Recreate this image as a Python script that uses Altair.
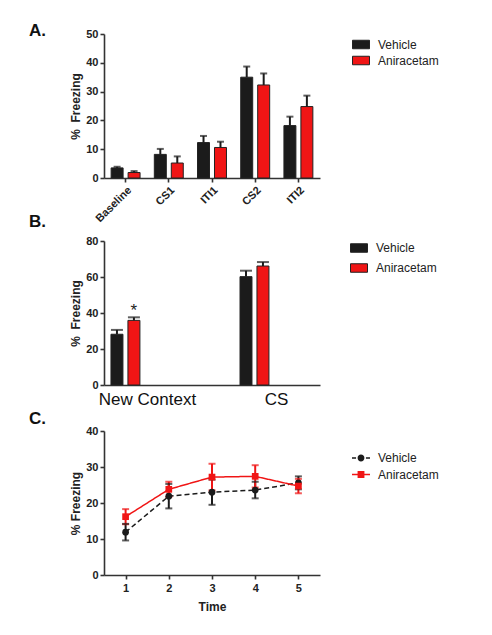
import altair as alt
import pandas as pd

FONT = "Liberation Sans"
BLACK = "#1b1b1b"
RED = "#f01515"
AXIS = "#333333"
groups = ["Vehicle", "Aniracetam"]

# ---- Panel A data ----
phases_a = ["Baseline", "CS1", "ITI1", "CS2", "ITI2"]
veh_a = [3.5, 8.2, 12.3, 35.0, 18.2]
veh_a_sem = [0.4, 1.9, 2.3, 3.7, 3.1]
ani_a = [1.9, 5.2, 10.6, 32.3, 24.8]
ani_a_sem = [0.5, 2.3, 2.0, 4.0, 3.8]

# ---- Panel B data ----
contexts_b = ["New Context", "CS"]
veh_b = [28.2, 60.2]
veh_b_sem = [2.4, 3.3]
ani_b = [35.9, 66.1]
ani_b_sem = [1.7, 2.2]
ani_b_sig = ["*", ""]

# ---- Panel C data ----
time_c = [1, 2, 3, 4, 5]
veh_c = [11.9, 21.9, 23.0, 23.6, 25.6]
veh_c_sem = [2.3, 3.4, 3.5, 2.3, 1.8]
ani_c = [16.2, 23.8, 27.2, 27.4, 24.7]
ani_c_sem = [2.1, 2.1, 3.7, 3.1, 2.0]


def long_df(keyname, keys, v, vs, a, as_, sig=None):
    rows = []
    for i, k in enumerate(keys):
        rows.append({keyname: k, "group": "Vehicle", "mean": v[i], "sem": vs[i],
                     "hi": v[i] + vs[i], "lo": v[i] - vs[i], "sig": ""})
    for i, k in enumerate(keys):
        rows.append({keyname: k, "group": "Aniracetam", "mean": a[i], "sem": as_[i],
                     "hi": a[i] + as_[i], "lo": a[i] - as_[i],
                     "sig": sig[i] if sig else ""})
    return pd.DataFrame(rows)


df_a = long_df("phase", phases_a, veh_a, veh_a_sem, ani_a, ani_a_sem)
df_b = long_df("context", contexts_b, veh_b, veh_b_sem, ani_b, ani_b_sem, ani_b_sig)
df_c = long_df("time", time_c, veh_c, veh_c_sem, ani_c, ani_c_sem)

color_scale = alt.Scale(domain=groups, range=[BLACK, RED])


def bar_legend(x, y, rowpad):
    return alt.Legend(title=None, orient="none", legendX=x, legendY=y,
                      symbolType="M-1,-0.5H1V0.5H-1Z", symbolSize=289,
                      symbolStrokeColor="#222222", symbolStrokeWidth=1,
                      symbolOpacity=1,
                      labelFont=FONT, labelFontSize=12, labelColor="#222222",
                      labelOffset=8, rowPadding=rowpad)


def yaxis(vals, title):
    return alt.Axis(title=title, values=vals, titlePadding=3, labelPadding=2,
                    tickSize=4, labelOverlap=False)


def panel_title(txt, dy):
    return alt.TitleParams(text=txt, anchor="start", frame="group", orient="top",
                           dx=-75, dy=dy, offset=0, fontSize=17, fontWeight="bold",
                           font=FONT, color="#111111", baseline="alphabetic")


# ---- Panel A chart ----
xa = alt.X("phase:N", sort=phases_a, title=None,
           scale=alt.Scale(paddingInner=0.33, paddingOuter=0.165),
           axis=alt.Axis(labelAngle=-45, tickSize=4, labelPadding=2))
xoa = alt.XOffset("group:N", sort=groups,
                  scale=alt.Scale(paddingInner=0.294, paddingOuter=0))
ax_a = yaxis([0, 10, 20, 30, 40, 50], "%\u00a0 Freezing")
sc_a = alt.Scale(domain=[0, 50])
base_a = alt.Chart(df_a)
bars_a = base_a.mark_bar(stroke="#222222", strokeWidth=1).encode(
    x=xa, xOffset=xoa,
    y=alt.Y("mean:Q", scale=sc_a, axis=ax_a),
    color=alt.Color("group:N", sort=groups, scale=color_scale,
                    legend=bar_legend(248, 1.5, 0)),
)
err_a = base_a.mark_rule(color=BLACK, strokeWidth=2).encode(
    x=xa, xOffset=xoa, y=alt.Y("mean:Q", scale=sc_a, axis=ax_a), y2="hi:Q")
cap_a = base_a.mark_tick(color=BLACK, thickness=2, size=7, orient="horizontal").encode(
    x=xa, xOffset=xoa, y=alt.Y("hi:Q", scale=sc_a, axis=ax_a))
chart_a = alt.layer(bars_a, err_a, cap_a).properties(
    width=216, height=144, title=panel_title("A.", 25))

# ---- Panel B chart ----
xb = alt.X("context:N", sort=contexts_b, title=None,
           scale=alt.Scale(paddingInner=0.434, paddingOuter=0.054),
           axis=alt.Axis(labelAngle=0, ticks=False, tickSize=0, labelPadding=6,
                         labelFontSize=17, labelFontWeight="normal",
                         labelColor="#111111"))
xob = alt.XOffset("group:N", sort=groups,
                  scale=alt.Scale(paddingInner=0.302, paddingOuter=0))
ax_b = yaxis([0, 20, 40, 60, 80], "%\u00a0 Freezing")
sc_b = alt.Scale(domain=[0, 80])
base_b = alt.Chart(df_b)
bars_b = base_b.mark_bar(stroke="#222222", strokeWidth=1).encode(
    x=xb, xOffset=xob,
    y=alt.Y("mean:Q", scale=sc_b, axis=ax_b),
    color=alt.Color("group:N", sort=groups, scale=color_scale,
                    legend=bar_legend(246, -2, 4)),
)
err_b = base_b.mark_rule(color=BLACK, strokeWidth=2).encode(
    x=xb, xOffset=xob, y=alt.Y("mean:Q", scale=sc_b, axis=ax_b), y2="hi:Q")
cap_b = base_b.mark_tick(color=BLACK, thickness=2, size=12, orient="horizontal").encode(
    x=xb, xOffset=xob, y=alt.Y("hi:Q", scale=sc_b, axis=ax_b))
sig_b = base_b.mark_text(font=FONT, fontSize=17, color="#222222", baseline="alphabetic",
                         dy=-1).encode(
    x=xb, xOffset=xob, y=alt.Y("hi:Q", scale=sc_b, axis=ax_b), text="sig:N")
chart_b = alt.layer(bars_b, err_b, cap_b, sig_b).properties(
    width=216, height=144, title=panel_title("B.", 8.5))

# ---- Panel C chart ----
xc = alt.X("time:Q", title="Time", scale=alt.Scale(domain=[0.5, 5.5], nice=False),
           axis=alt.Axis(values=time_c, tickSize=4, labelPadding=3, titlePadding=8,
                         labelFlush=False, format="d"))
ax_c = yaxis([0, 10, 20, 30, 40], "% Freezing")
sc_c = alt.Scale(domain=[0, 40])
yc = alt.Y("mean:Q", scale=sc_c, axis=ax_c)
base_c = alt.Chart(df_c)
col_c = alt.Color("group:N", sort=groups, scale=color_scale, legend=None)

lines_c = base_c.mark_line(strokeWidth=1.5).encode(
    x=xc, y=yc, color=col_c,
    strokeDash=alt.StrokeDash("group:N", sort=groups,
                              scale=alt.Scale(domain=groups, range=[[5, 3], [1, 0]]),
                              legend=None),
)
err_c = base_c.mark_rule(strokeWidth=2).encode(
    x=xc, y=alt.Y("lo:Q", scale=sc_c, axis=ax_c), y2="hi:Q", color=col_c)
caplo_c = base_c.mark_tick(thickness=2, size=7, orient="horizontal").encode(
    x=xc, y=alt.Y("lo:Q", scale=sc_c, axis=ax_c), color=col_c)
caphi_c = base_c.mark_tick(thickness=2, size=7, orient="horizontal").encode(
    x=xc, y=alt.Y("hi:Q", scale=sc_c, axis=ax_c), color=col_c)
pts_c = base_c.mark_point(filled=True, size=45, opacity=1).encode(
    x=xc, y=yc, color=col_c,
    shape=alt.Shape("group:N", sort=groups,
                    scale=alt.Scale(domain=groups, range=["circle", "square"]),
                    legend=None),
)
# legend layer: invisible marks whose legend symbol combines line + marker
# (line pieces drawn as thin filled bars so that only a fill colour is needed)
leg_paths = [
    "M-1,-0.08H-0.55V0.08H-1Z M0.55,-0.08H1V0.08H0.55Z "
    "M0.38,0A0.38,0.38,0,1,1,-0.38,0A0.38,0.38,0,1,1,0.38,0Z",
    "M-1,-0.08H1V0.08H-1Z M-0.38,-0.38H0.38V0.38H-0.38Z",
]
leg_c = alt.Legend(title=None, orient="none", legendX=248, legendY=18,
                   symbolSize=324, symbolStrokeWidth=0, symbolOpacity=1,
                   labelFont=FONT, labelFontSize=12, labelColor="#222222",
                   labelOffset=8, rowPadding=1.5)
legend_c = base_c.transform_calculate(series="datum.group").mark_point(
    filled=True, opacity=0).encode(
    x=xc, y=yc,
    color=alt.Color("series:N", sort=groups, scale=color_scale, legend=leg_c),
    shape=alt.Shape("series:N", sort=groups,
                    scale=alt.Scale(domain=groups, range=leg_paths), legend=leg_c),
)
chart_c = alt.layer(lines_c, err_c, caplo_c, caphi_c, pts_c, legend_c).resolve_scale(
    shape="independent", color="independent").properties(
    width=216, height=144, title=panel_title("C.", 16))


def spacer(h):
    return alt.Chart(pd.DataFrame({"s": [0]})).mark_point(opacity=0).encode(
        x=alt.value(0), y=alt.value(0)).properties(width=216, height=h)


res = dict(x="independent", y="independent", color="independent",
           fill="independent", stroke="independent", shape="independent",
           strokeDash="independent")

chart = alt.vconcat(chart_a, spacer(33), chart_b, spacer(16), chart_c,
                    spacing=15, bounds="flush").resolve_scale(**res).properties(
    padding={"left": 21, "top": 14, "right": 5, "bottom": 5}
).configure_view(stroke=None).configure_axis(
    grid=False, domainColor=AXIS, domainWidth=1.6, tickColor=AXIS, tickWidth=1.6,
    labelFont=FONT, labelFontSize=11, labelFontWeight="bold", labelColor="#222222",
    titleFont=FONT, titleFontSize=12, titleFontWeight="bold", titleColor="#222222",
)

chart.save("out.html", embed_options={"renderer": "svg", "actions": False})
